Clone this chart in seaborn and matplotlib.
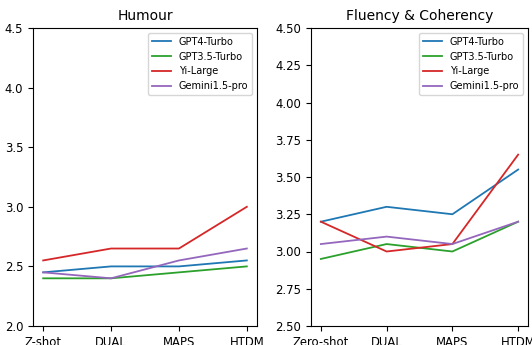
import matplotlib
matplotlib.use("Agg")
import matplotlib.pyplot as plt
import seaborn as sns
import pandas as pd
import numpy as np
from matplotlib.ticker import MultipleLocator, FormatStrFormatter

models = ["GPT4-Turbo", "GPT3.5-Turbo", "Yi-Large", "Gemini1.5-pro"]
colors = ["#1f77b4", "#2ca02c", "#d62728", "#9467bd"]
labels_left = ["Z-shot", "DUAL", "MAPS", "HTDM"]
labels_right = ["Zero-shot", "DUAL", "MAPS", "HTDM"]

humour_gpt4 = [2.45, 2.50, 2.50, 2.55]
humour_gpt35 = [2.40, 2.40, 2.45, 2.50]
humour_yi = [2.55, 2.65, 2.65, 3.00]
humour_gemini = [2.45, 2.40, 2.55, 2.65]

fluency_gpt4 = [3.20, 3.30, 3.25, 3.55]
fluency_gpt35 = [2.95, 3.05, 3.00, 3.20]
fluency_yi = [3.20, 3.00, 3.05, 3.65]
fluency_gemini = [3.05, 3.10, 3.05, 3.20]


def make_df(series):
    rows = []
    for m, vals in zip(models, series):
        for i, v in enumerate(vals):
            rows.append({"x": i, "score": v, "model": m})
    return pd.DataFrame(rows)


df_h = make_df([humour_gpt4, humour_gpt35, humour_yi, humour_gemini])
df_f = make_df([fluency_gpt4, fluency_gpt35, fluency_yi, fluency_gemini])

fig = plt.figure(figsize=(5.32, 3.45), dpi=100)
W, H = 532, 345
ax1 = fig.add_axes([33 / W, (H - 326) / H, (257 - 33) / W, (326 - 28) / H])
ax2 = fig.add_axes([311 / W, (H - 326) / H, (528 - 311) / W, (326 - 28) / H])

pal = dict(zip(models, colors))
for ax, df, labels, title in [(ax1, df_h, labels_left, "Humour"),
                              (ax2, df_f, labels_right, "Fluency & Coherency")]:
    sns.lineplot(data=df, x="x", y="score", hue="model", hue_order=models,
                 palette=pal, ax=ax, linewidth=1.3)
    ax.set_xticks(range(4))
    ax.set_xticklabels(labels)
    ax.set_xlabel("")
    ax.set_ylabel("")
    ax.set_title(title, fontsize=10)
    ax.tick_params(labelsize=8.4)
    ax.legend(loc="upper right", fontsize=7, title=None)

ax1.set_ylim(2.0, 4.5)
ax1.yaxis.set_major_locator(MultipleLocator(0.5))
ax2.set_ylim(2.5, 4.5)
ax2.yaxis.set_major_locator(MultipleLocator(0.25))
ax2.yaxis.set_major_formatter(FormatStrFormatter("%.2f"))

fig.savefig("out.png", dpi=100)
